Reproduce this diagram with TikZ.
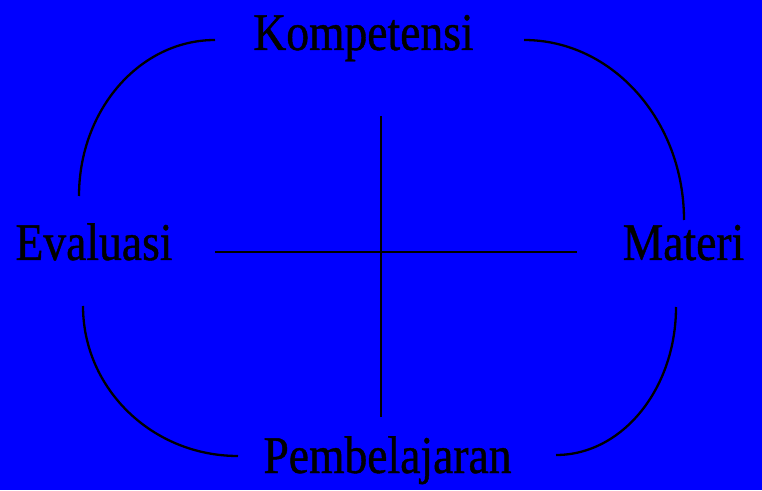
\documentclass[tikz,border=0pt]{standalone}
\usepackage{fontspec}
\setmainfont[FakeStretch=0.86, FakeBold=0.8]{Liberation Serif}
\begin{document}
\begin{tikzpicture}[x=1pt, y=1pt, line width=2.3pt]
\tikzset{label/.style={anchor=base, inner sep=0pt, font=\fontsize{53}{60}\selectfont}}
\fill[blue] (0,0) rectangle (762,490);
\useasboundingbox (0,0) rectangle (762,490);
\node[label] (kom) at (363.5,440) {Kompetensi};
\node[label] (eva) at (94,230) {Evaluasi};
\node[label] (mat) at (683.5,230) {Materi};
\node[label] (pem) at (387.5,17) {Pembelajaran};
% cross
\coordinate (top) at (381,374);
\coordinate (bot) at (381,73);
\coordinate (lft) at (215,238);
\coordinate (rgt) at (577,238);
\draw (top) -- (bot);
\draw (lft) -- (rgt);
% arcs
\coordinate (tl) at (215,450);
\coordinate (tr) at (524,450);
\coordinate (bl) at (83,184);
\coordinate (br) at (676,183);
\draw (tl) arc[start angle=90, end angle=180, x radius=136, y radius=156];
\draw (tr) arc[start angle=90, end angle=0, x radius=160, y radius=180];
\draw (bl) arc[start angle=180, end angle=270, x radius=155, y radius=150];
\draw (br) arc[start angle=0, end angle=-90, x radius=120, y radius=148];
\end{tikzpicture}
\end{document}
